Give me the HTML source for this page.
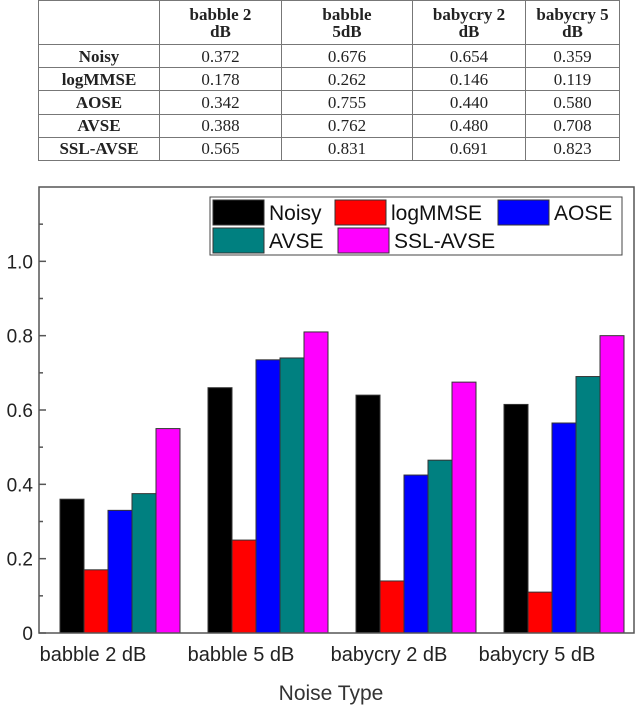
<!DOCTYPE html>
<html><head><meta charset="utf-8"><style>
body{margin:0;background:#fff;width:640px;height:712px;overflow:hidden;font-family:"Liberation Sans",sans-serif}
table{position:absolute;left:38px;top:0;width:582px;height:161px;border-collapse:collapse;font-family:"Liberation Serif",serif;font-size:17px;color:#222}
td,th{border:1.5px solid #777;text-align:center;padding:0;line-height:17px}
th{font-weight:bold}
td.h{font-weight:bold}
</style></head><body>
<table>
<tr style="height:44px"><th style="width:120px"></th><th style="width:121px">babble 2<br>dB</th><th style="width:130px">babble<br>5dB</th><th style="width:112px">babycry 2<br>dB</th><th>babycry 5<br>dB</th></tr>
<tr><td class="h">Noisy</td><td>0.372</td><td>0.676</td><td>0.654</td><td>0.359</td></tr>
<tr><td class="h">logMMSE</td><td>0.178</td><td>0.262</td><td>0.146</td><td>0.119</td></tr>
<tr><td class="h">AOSE</td><td>0.342</td><td>0.755</td><td>0.440</td><td>0.580</td></tr>
<tr><td class="h">AVSE</td><td>0.388</td><td>0.762</td><td>0.480</td><td>0.708</td></tr>
<tr><td class="h">SSL-AVSE</td><td>0.565</td><td>0.831</td><td>0.691</td><td>0.823</td></tr>
</table>
<svg id="c" width="640" height="712" style="position:absolute;left:0;top:0"></svg>
<script>
const categories=["babble 2 dB","babble 5 dB","babycry 2 dB","babycry 5 dB"];
const seriesNames=["Noisy","logMMSE","AOSE","AVSE","SSL-AVSE"];
const noisy=[0.36,0.66,0.64,0.615];
const logmmse=[0.17,0.25,0.14,0.11];
const aose=[0.33,0.735,0.425,0.565];
const avse=[0.375,0.74,0.465,0.69];
const sslavse=[0.55,0.81,0.675,0.80];
const yTicks=[0,0.2,0.4,0.6,0.8,1.0];
const yTickLabels=["0","0.2","0.4","0.6","0.8","1.0"];
const series=[noisy,logmmse,aose,avse,sslavse];
const colors=["#000000","#ff0000","#0000ff","#008080","#ff00ff"];
const svg=document.getElementById('c');const NS="http://www.w3.org/2000/svg";
const L=39,R=634,T=187,B=633,YMAX=1.2;
const y=v=>B-v/YMAX*(B-T);
const gw=148,bw=24,g0=60;
const x=(ci,si)=>g0+ci*gw+si*bw;
function mk(t,a,txt){const e=document.createElementNS(NS,t);for(const k in a)e.setAttribute(k,a[k]);if(txt!=null)e.textContent=txt;svg.appendChild(e);return e;}
categories.forEach((c,ci)=>{series.forEach((s,si)=>{
const r=mk('rect',{x:x(ci,si),y:y(s[ci]),width:bw,height:B-y(s[ci]),fill:colors[si],stroke:'#333','stroke-width':1});

});
const t=mk('text',{x:x(ci,2)+bw/2-27,y:661,'font-size':20,'text-anchor':'middle',fill:'#222'},c);

});
const f=mk('rect',{x:L,y:T,width:R-L,height:B-T,fill:'none',stroke:'#555','stroke-width':1.5});


for(let v=0.1;v<YMAX;v+=0.2){mk('line',{x1:L,x2:L+4,y1:y(v),y2:y(v),stroke:'#555','stroke-width':1.5});}
yTicks.forEach((v,i)=>{mk('line',{x1:L,x2:L+7,y1:y(v),y2:y(v),stroke:'#555','stroke-width':1.5});
const t=mk('text',{x:33,y:y(v)+7,'font-size':19,'text-anchor':'end',fill:'#222'},yTickLabels[i]);

});
const xt=mk('text',{x:331,y:700,'font-size':21,'text-anchor':'middle',fill:'#333'},'Noise Type');


const lg=mk('rect',{x:210,y:197,width:412,height:58,fill:'#fff',stroke:'#444','stroke-width':1});


const lp=[[213,200],[335,200],[498,200],[213,228],[338,228]];
seriesNames.forEach((n,i)=>{const [lx,ly]=lp[i];
mk('rect',{x:lx,y:ly,width:51,height:25,fill:colors[i],stroke:'#333','stroke-width':1});
const t=mk('text',{x:lx+56,y:ly+20,'font-size':21,fill:'#111'},n);

});
</script>
</body></html>
